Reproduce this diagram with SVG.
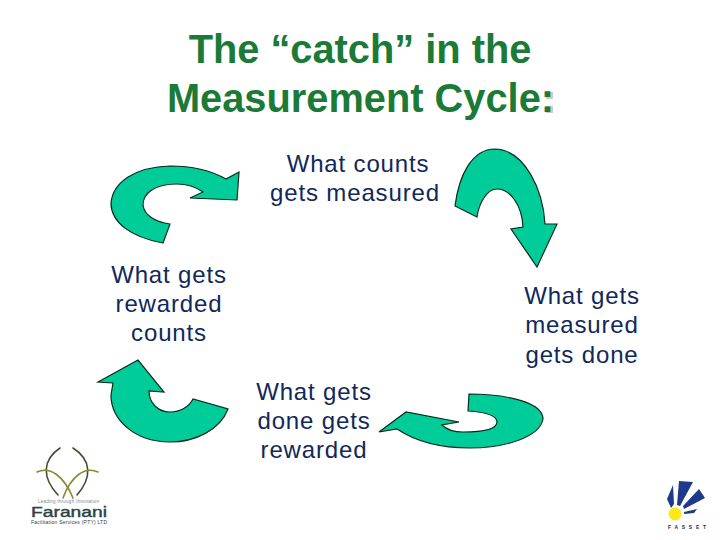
<svg xmlns="http://www.w3.org/2000/svg" width="720" height="540" viewBox="0 0 720 540">
<style>
.t{font-family:"Liberation Sans",Arial,sans-serif;font-size:24px;fill:#10285a;text-anchor:middle;letter-spacing:.85px}
.h{font-family:"Liberation Sans",Arial,sans-serif;font-size:39.8px;font-weight:bold;fill:#1a7a36;text-anchor:middle}
.a{fill:#00cc99;stroke:#0a2a1a;stroke-width:1.2;stroke-linejoin:miter}
.d{fill:none;stroke-linecap:round;stroke-width:1.6}
.f{font-family:"Liberation Sans",Arial,sans-serif;fill:#2a4444}
.b{fill:#1f3a8c}
.s{fill:#c4ccc6}
</style>
<rect width="720" height="540" fill="#fff"/>
<g id="title"><rect class="s" x="546" y="92" width="7" height="7"/><rect class="s" x="546" y="106" width="7" height="7"/><text class="h" x="360" y="63">The “catch” in the</text><text class="h" x="360.500" y="112">Measurement Cycle:</text></g>
<g id="connectors">
<path class="a" d="M239 172L237 200L190 198L203 192C196 187 187 184 177 184C155 184 143 193 143 205C144 215 155 222 170 224L163 243C130 237 111 222 111 203C113 182 135 167 170 166C192 166 210 170 226 179Z"/>
<path class="a" d="M477 217L455 206C459 175 472 149 495 149C525 150 543 190 545 224L557 224L537 267L511 229L523 227C522 205 510 189 497 189C487 189 479 203 477 217Z"/>
<path class="a" d="M469 394C505 394 543 402 543 419C540 437 505 448 470 448C440 448 415 441 397 429L379 432L406 412L459 422L442 425C447 430 455 432 463 432C480 432 497 430 497 422C497 415 483 412 468 411Z"/>
<path class="a" d="M98 382L138 360L164 392L149 391C149 403 158 412 170 412C180 412 189 407 193 399L228 409C220 430 195 442 170 442C135 442 111 420 111 395L113 383Z"/>
</g>
<g id="n1"><text class="t" x="358" y="172">What counts</text><text class="t" x="355" y="201">gets measured</text></g>
<g id="n2"><text class="t" x="582" y="304">What gets</text><text class="t" x="582" y="333">measured</text><text class="t" x="582" y="363">gets done</text></g>
<g id="n3"><text class="t" x="314" y="400">What gets</text><text class="t" x="314" y="429">done gets</text><text class="t" x="314" y="458">rewarded</text></g>
<g id="n4"><text class="t" x="169" y="283">What gets</text><text class="t" x="169" y="312">rewarded</text><text class="t" x="169" y="341">counts</text></g>
<g id="logo-faranani">
<path class="d" stroke="#4a4a30" d="M60 448C42 460 42 478 58 495"/>
<path class="d" stroke="#4a4a30" d="M73 448C92 460 92 478 77 495"/>
<path class="d" stroke="#8a8a30" d="M37 472C50 466 64 476 73 498"/>
<path class="d" stroke="#8a8a30" d="M98 472C85 466 71 476 63 498"/>
<text class="f" x="38" y="503" font-size="4.500" textLength="61" fill-opacity=".7">Leading through Innovation</text>
<text class="f" x="31" y="516.500" font-size="14" stroke="#2a4444" stroke-width=".4" textLength="76" lengthAdjust="spacingAndGlyphs">Faranani</text>
<text class="f" x="31" y="524" font-size="5" textLength="76">Facilitation Services (PTY) LTD</text>
</g>
<g id="logo-fasset">
<polygon class="b" points="673,485 667,499 671,508 674,504"/>
<polygon class="b" points="679,481 693,482 680,506 677,505"/>
<polygon class="b" points="699,489 705,498 684,509 683,506"/>
<polygon class="b" points="697,509 694,513 684,514 684,512"/>
<circle cx="675" cy="514" r="6.500" fill="#ffe81a"/>
<text x="668" y="529" font-family="Liberation Sans,Arial,sans-serif" font-size="5" font-weight="bold" fill="#1f2a5c" textLength="38">FASSET</text>
</g>
</svg>
